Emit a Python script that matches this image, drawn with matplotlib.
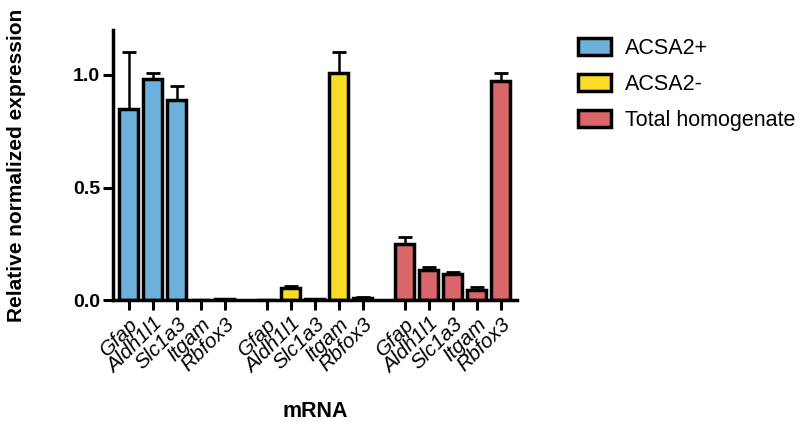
import matplotlib
matplotlib.use("Agg")
import matplotlib.pyplot as plt
import numpy as np

plt.rcParams['font.family'] = ['Liberation Sans', 'DejaVu Sans']

genes = ["Gfap", "Aldh1l1", "Slc1a3", "Itgam", "Rbfox3"]
groups = ["ACSA2+", "ACSA2-", "Total homogenate"]
colors = ["#6cb0db", "#f9dc27", "#d9666a"]

acsa_pos = [0.85, 0.98, 0.89, 0.0, 0.003]
acsa_pos_err = [0.25, 0.03, 0.06, 0.0, 0.0]
acsa_neg = [0.002, 0.055, 0.005, 1.01, 0.008]
acsa_neg_err = [0.0, 0.008, 0.0, 0.09, 0.004]
total = [0.25, 0.133, 0.116, 0.046, 0.975]
total_err = [0.03, 0.014, 0.01, 0.01, 0.035]

values = [acsa_pos, acsa_neg, total]
errors = [acsa_pos_err, acsa_neg_err, total_err]

fig = plt.figure(figsize=(8, 4.22), dpi=100)
ax = fig.add_axes([0.141, 0.289, 0.505, 0.64])

offsets = [0, 5.75, 11.5]
xticks = []
xlabels = []
for i in range(3):
    x = np.arange(5) + offsets[i]
    ax.bar(x, values[i], width=0.8, color=colors[i], edgecolor='black',
           linewidth=2.5, label=groups[i], zorder=2)
    ax.errorbar(x, values[i], yerr=[np.zeros(5), errors[i]], fmt='none',
                ecolor='black', elinewidth=1.8, capsize=5, capthick=2, zorder=1)
    xticks.extend(x)
    xlabels.extend(genes)

ax.set_xlim(-0.67, 16.17)
ax.set_ylim(0, 1.2)
ax.set_yticks([0, 0.5, 1.0])
ax.set_yticklabels(["0.0", "0.5", "1.0"], fontsize=14, fontweight='bold')
ax.set_xticks(xticks)
ax.set_xticklabels(xlabels, rotation=45, ha='right', rotation_mode='anchor',
                   fontsize=15, fontstyle='italic')

for s in ['top', 'right']:
    ax.spines[s].set_visible(False)
for s in ['left', 'bottom']:
    ax.spines[s].set_linewidth(2.5)
ax.tick_params(axis='both', width=2.2, length=7, direction='out')
ax.tick_params(axis='y', pad=2)

ax.set_xlabel("mRNA", fontsize=15.5, fontweight='bold', labelpad=17)
ax.set_ylabel("Relative normalized expression", fontsize=15, fontweight='bold', labelpad=34)

fig.legend(loc='upper left', bbox_to_anchor=(0.723, 0.91), frameon=False,
           fontsize=15.5, handlelength=1.5, handleheight=0.85, handletextpad=0.65,
           labelspacing=0.7, borderpad=0, borderaxespad=0)

fig.savefig("out.png", dpi=100)
